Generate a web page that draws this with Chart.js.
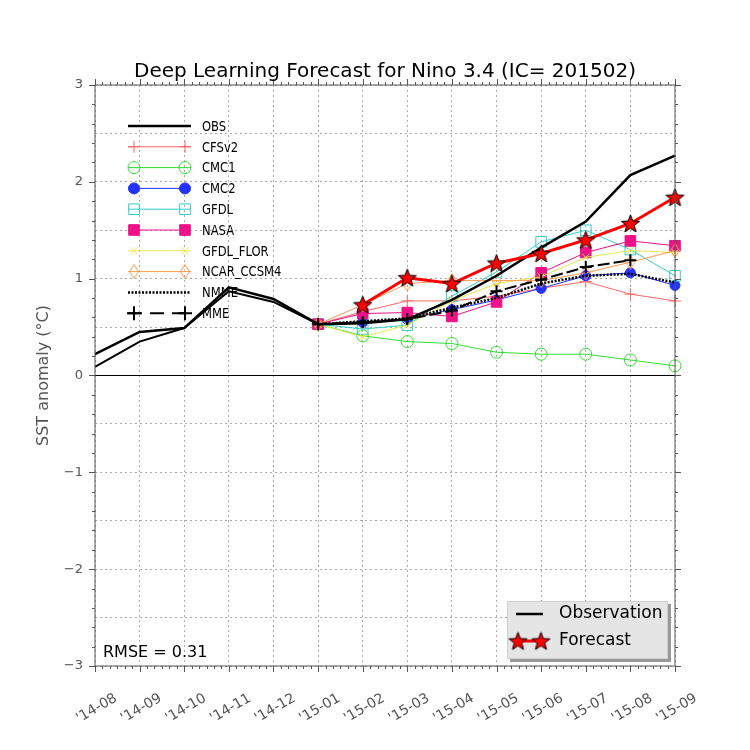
<!DOCTYPE html>
<html>
<head>
<meta charset="utf-8">
<script src="https://cdn.jsdelivr.net/npm/chart.js@4.4.1/dist/chart.umd.min.js"></script>
<style>
  html, body { margin: 0; padding: 0; background: #fff; }
  #wrap { width: 750px; height: 750px; }
</style>
</head>
<body>
<div id="wrap"><canvas id="myChart" width="750" height="750"></canvas></div>
<script>
// months on the x axis
const months = ['14-08', '14-09', '14-10', '14-11', '14-12', '15-01', '15-02',
  '15-03', '15-04', '15-05', '15-06', '15-07', '15-08', '15-09'];
const tickLabels = months.map(m => "'" + m);

// observed SST anomaly
const observation = [0.22, 0.45, 0.49, 0.91, 0.79, 0.53, 0.54, 0.58, 0.78, 1.03, 1.32, 1.59, 2.07, 2.27];
const obsHist = [0.09, 0.35, 0.49, 0.87, 0.76, 0.53];

// model runs from 15-01 to 15-09
const cfsv2 = [0.53, 0.66, 0.77, 0.77, 0.82, 0.90, 0.97, 0.84, 0.77];
const cmc1 = [0.53, 0.41, 0.35, 0.33, 0.24, 0.22, 0.22, 0.16, 0.10];
const cmc2 = [0.53, 0.55, 0.58, 0.68, 0.78, 0.90, 1.03, 1.06, 0.93];
const gfdl = [0.53, 0.48, 0.52, 0.82, 1.07, 1.38, 1.50, 1.30, 1.03];
const nasa = [0.53, 0.64, 0.65, 0.61, 0.76, 1.06, 1.27, 1.39, 1.34];
const gfdlFlor = [0.53, 0.40, 0.52, 0.77, 0.95, 1.02, 1.22, 1.29, 1.27];
const ncar = [0.53, 0.73, 0.95, 0.98, 0.98, 0.98, 1.06, 1.17, 1.29];
const nmme = [0.53, 0.56, 0.59, 0.70, 0.80, 0.95, 1.03, 1.05, 0.96];
const mme = [0.53, 0.55, 0.58, 0.67, 0.87, 0.99, 1.12, 1.19, null];
// deep learning forecast from 15-02 to 15-09
const forecast = [0.73, 1.01, 0.95, 1.16, 1.26, 1.40, 1.57, 1.84];

const yTicks = [3, 2, 1, 0, -1, -2, -3];
const rmseText = 'RMSE = 0.31';

const lead5 = [null, null, null, null, null];
const lead6 = [null, null, null, null, null, null];

function makeStar(size) {
  const c = document.createElement('canvas');
  c.width = size; c.height = size;
  const g = c.getContext('2d');
  const cx = size / 2, cy = size / 2 + 0.8, ro = size / 2 - 1, ri = ro * 0.42;
  g.beginPath();
  for (let i = 0; i < 10; i++) {
    const r = i % 2 ? ri : ro;
    const a = -Math.PI / 2 + i * Math.PI / 5;
    g.lineTo(cx + r * Math.cos(a), cy + r * Math.sin(a));
  }
  g.closePath();
  g.fillStyle = '#ff0000';
  g.fill();
  g.strokeStyle = '#000';
  g.lineWidth = 1;
  g.stroke();
  return c;
}

// thin open diamond like matplotlib 'd'
function makeDiamond(w, h, color) {
  const c = document.createElement('canvas');
  c.width = w; c.height = h;
  const g = c.getContext('2d');
  g.beginPath();
  g.moveTo(w / 2, 0.5);
  g.lineTo(w - 0.5, h / 2);
  g.lineTo(w / 2, h - 0.5);
  g.lineTo(0.5, h / 2);
  g.closePath();
  g.strokeStyle = color;
  g.lineWidth = 1;
  g.stroke();
  return c;
}

const star = makeStar(21);
const diamond = makeDiamond(10, 15, '#ff9a4d');
const none = 'rgba(0,0,0,0)';

function model(label, data, color, style, radius, filled, extra) {
  return Object.assign({
    label: label,
    data: lead5.concat(data),
    borderColor: color,
    borderWidth: 1,
    pointStyle: style,
    pointRadius: radius,
    pointBorderColor: color,
    pointBackgroundColor: filled ? color : none,
    pointBorderWidth: 1,
    fill: false,
    tension: 0
  }, extra || {});
}

const datasets = [
  {
    label: 'Forecast', data: lead6.concat(forecast), borderColor: '#ff0000', borderWidth: 3,
    pointStyle: star, pointRadius: 10, fill: false, tension: 0
  },
  {
    label: 'Observation', data: observation, borderColor: '#000', borderWidth: 2.5,
    pointRadius: 0, fill: false, tension: 0
  },
  model('MME', mme, '#000', 'cross', 6, false, { borderWidth: 2, borderDash: [12, 4], pointBorderWidth: 2 }),
  model('NMME', nmme, '#000', 'line', 0, false, { borderWidth: 2.5, borderDash: [2, 1.5] }),
  model('NCAR_CCSM4', ncar, '#ff9a4d', diamond, 7, false),
  model('GFDL_FLOR', gfdlFlor, '#e8e84a', 'crossRot', 5, false),
  model('NASA', nasa, '#ee1188', 'rect', 7.5, true),
  model('GFDL', gfdl, '#33cccc', 'rect', 7.5, false),
  model('CMC2', cmc2, '#2233ff', 'circle', 5, true),
  model('CMC1', cmc1, '#33dd33', 'circle', 6, false),
  model('CFSv2', cfsv2, '#ff6666', 'cross', 6, false),
  {
    label: 'OBS', data: obsHist, borderColor: '#000', borderWidth: 2,
    pointRadius: 0, fill: false, tension: 0
  }
];

// entries of the upper legend, top to bottom
const legendRows = [
  { text: 'OBS', color: '#000', width: 2.5, style: false },
  { text: 'CFSv2', color: '#ff6666', width: 1, style: 'cross', r: 6, fill: false },
  { text: 'CMC1', color: '#33dd33', width: 1, style: 'circle', r: 6, fill: false },
  { text: 'CMC2', color: '#2233ff', width: 1, style: 'circle', r: 5.5, fill: true },
  { text: 'GFDL', color: '#33cccc', width: 1, style: 'rect', r: 7.5, fill: false },
  { text: 'NASA', color: '#ee1188', width: 1, style: 'rect', r: 7.5, fill: true },
  { text: 'GFDL_FLOR', color: '#e8e84a', width: 1, style: 'crossRot', r: 5, fill: false },
  { text: 'NCAR_CCSM4', color: '#ff9a4d', width: 1, style: diamond, r: 7, fill: false },
  { text: 'NMME', color: '#000', width: 2.5, style: false, dash: [2, 1.5] },
  { text: 'MME', color: '#000', width: 2, style: 'cross', r: 7, fill: false, dash: [14, 8], pw: 2 }
];

function marker(ctx, row, x, y) {
  ctx.save();
  ctx.setLineDash([]);
  ctx.strokeStyle = row.color;
  ctx.fillStyle = row.fill ? row.color : none;
  ctx.lineWidth = row.pw || 1;
  Chart.helpers.drawPoint(ctx, { pointStyle: row.style, radius: row.r, rotation: 0, borderWidth: row.pw || 1 }, x, y);
  ctx.restore();
}

const frame = {
  id: 'frame',
  beforeDatasetsDraw(chart) {
    const { ctx, chartArea: a, scales: { y } } = chart;
    const y0 = y.getPixelForValue(0);
    ctx.save();
    ctx.strokeStyle = '#000';
    ctx.lineWidth = 1;
    ctx.beginPath();
    ctx.moveTo(a.left, y0);
    ctx.lineTo(a.right, y0);
    ctx.stroke();
    ctx.restore();
  },
  afterDraw(chart) {
    const { ctx, chartArea: a, scales: { x, y } } = chart;
    ctx.save();
    // spines
    ctx.strokeStyle = '#555';
    ctx.lineWidth = 1;
    ctx.strokeRect(a.left, a.top, a.right - a.left, a.bottom - a.top);

    // ticks, pointing outwards
    ctx.beginPath();
    for (let v = -3; v <= 3.001; v += 0.2) {
      const py = Math.round(y.getPixelForValue(v)) + 0.5;
      const major = Math.abs(v - Math.round(v)) < 0.01;
      const len = major ? 6 : 3;
      ctx.moveTo(a.left - len, py); ctx.lineTo(a.left, py);
      ctx.moveTo(a.right, py); ctx.lineTo(a.right + len, py);
    }
    const step = (x.getPixelForValue(1) - x.getPixelForValue(0)) / 6;
    for (let i = 0; i < months.length; i++) {
      const px = x.getPixelForValue(i);
      for (let k = 0; k < 6; k++) {
        if (i === months.length - 1 && k > 0) break;
        const qx = Math.round(px + k * step) + 0.5;
        const len = k === 0 ? 6 : 3;
        ctx.moveTo(qx, a.bottom); ctx.lineTo(qx, a.bottom + len);
        ctx.moveTo(qx, a.top - len); ctx.lineTo(qx, a.top);
      }
    }
    ctx.stroke();

    // title
    ctx.fillStyle = '#000';
    ctx.textAlign = 'center';
    ctx.textBaseline = 'alphabetic';
    ctx.font = '20px "DejaVu Sans"';
    ctx.fillText('Deep Learning Forecast for Nino 3.4 (IC= 201502)', (a.left + a.right) / 2, 77);

    // y axis title
    ctx.save();
    ctx.translate(48, (a.top + a.bottom) / 2);
    ctx.rotate(-Math.PI / 2);
    ctx.fillStyle = '#555';
    ctx.font = '16px "DejaVu Sans"';
    ctx.fillText('SST anomaly (\u00b0C)', 0, 0);
    ctx.restore();

    // RMSE
    ctx.textAlign = 'left';
    ctx.fillStyle = '#000';
    ctx.font = '16px "DejaVu Sans"';
    ctx.fillText(rmseText, 103, 657);

    // upper legend
    ctx.font = '14px "DejaVu Sans Condensed", "Liberation Sans Narrow", "DejaVu Sans"';
    ctx.textBaseline = 'middle';
    legendRows.forEach((row, i) => {
      const ly = 126 + i * 20.8;
      ctx.save();
      ctx.strokeStyle = row.color;
      ctx.lineWidth = row.width;
      ctx.setLineDash(row.dash || []);
      ctx.beginPath();
      ctx.moveTo(128, ly); ctx.lineTo(191, ly);
      ctx.stroke();
      ctx.restore();
      if (row.style) {
        marker(ctx, row, 134, ly);
        marker(ctx, row, 185, ly);
      }
      ctx.save();
      ctx.translate(202, ly + 1);
      ctx.scale(0.92, 1.05);
      ctx.fillStyle = '#000';
      ctx.fillText(row.text, 0, 0);
      ctx.restore();
    });

    // lower legend box
    ctx.fillStyle = '#999';
    ctx.fillRect(510, 604, 161, 58);
    ctx.fillStyle = '#e5e5e5';
    ctx.fillRect(507, 601, 161, 58);
    ctx.strokeStyle = '#d0d0d0';
    ctx.strokeRect(507.5, 601.5, 160, 57);
    ctx.strokeStyle = '#000';
    ctx.lineWidth = 2.5;
    ctx.beginPath();
    ctx.moveTo(516, 614); ctx.lineTo(543, 614);
    ctx.stroke();
    ctx.strokeStyle = '#ff0000';
    ctx.lineWidth = 3;
    ctx.beginPath();
    ctx.moveTo(518, 641); ctx.lineTo(541, 641);
    ctx.stroke();
    ctx.drawImage(star, 518 - star.width / 2, 641 - star.height / 2);
    ctx.drawImage(star, 541 - star.width / 2, 641 - star.height / 2);
    ctx.fillStyle = '#000';
    ctx.font = '17px "DejaVu Sans"';
    ctx.fillText('Observation', 559, 614);
    ctx.fillText('Forecast', 559, 641);
    ctx.restore();
  }
};

Chart.defaults.font.family = '"DejaVu Sans"';

const chartCtx = document.getElementById('myChart').getContext('2d');
new Chart(chartCtx, {
  type: 'line',
  data: { labels: tickLabels, datasets: datasets },
  options: {
    responsive: false,
    animation: false,
    spanGaps: false,
    layout: { padding: { left: 0, right: 75, top: 85, bottom: 0 } },
    plugins: {
      legend: { display: false },
      title: { display: false },
      tooltip: { enabled: false }
    },
    scales: {
      x: {
        type: 'category',
        offset: false,
        afterFit: s => { s.height = 84; },
        grid: { color: '#aaa', lineWidth: 1, drawTicks: false },
        border: { display: false, dash: [2, 3] },
        ticks: {
          autoSkip: false, minRotation: 30, maxRotation: 30, padding: 24, labelOffset: 21,
          color: '#555', font: { size: 14 }
        }
      },
      y: {
        min: -3, max: 3,
        afterFit: s => { s.width = 95; },
        afterBuildTicks: s => {
          const t = [];
          for (let v = -3; v <= 3; v += 0.5) t.push({ value: v });
          s.ticks = t;
        },
        grid: { color: '#aaa', lineWidth: 1, drawTicks: false },
        border: { display: false, dash: [2, 3] },
        ticks: {
          padding: 12, color: '#555', font: { size: 13 },
          callback: v => (yTicks.includes(v) ? String(v).replace('-', '\u2212') : '')
        }
      }
    }
  },
  plugins: [frame]
});
</script>
</body>
</html>
